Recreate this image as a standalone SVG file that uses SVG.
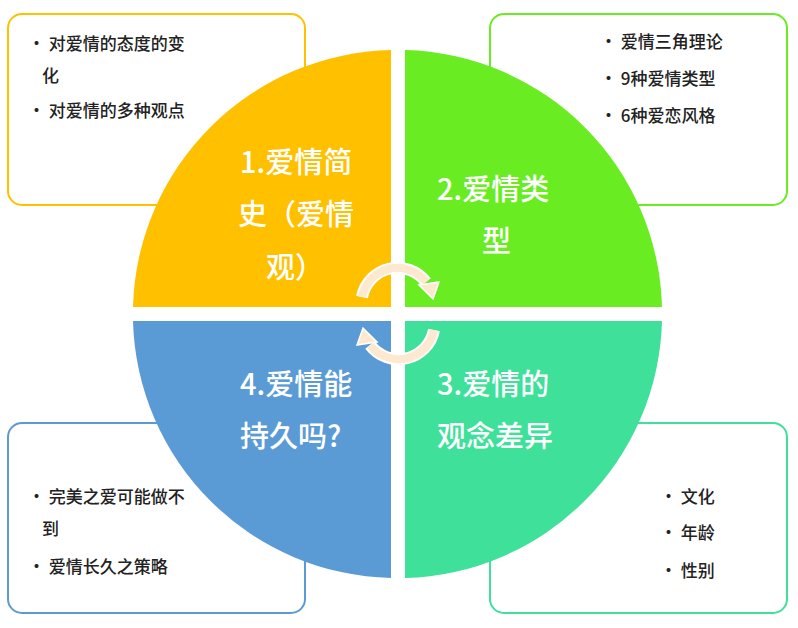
<svg xmlns="http://www.w3.org/2000/svg" width="798" height="628" viewBox="0 0 798 628">
<style>
.box{fill:#fff;stroke-width:2}
.b{font-family:"Noto Sans CJK SC","Noto Sans",sans-serif;font-size:17px;font-weight:500;fill:#222}
.q{font-family:"Noto Sans CJK SC","Noto Sans",sans-serif;font-size:29px;font-weight:500;fill:#fff}
</style>
<rect width="798" height="628" fill="#fff"/>
<g id="box1"><rect class="box" x="8" y="14" width="297" height="191" rx="14" stroke="#FFC000"/>
<text class="b" x="28" y="50">• 对爱情的态度的变</text><text class="b" x="42" y="82">化</text><text class="b" x="28" y="117">• 对爱情的多种观点</text></g>
<g id="box2"><rect class="box" x="490" y="14" width="297" height="191" rx="14" stroke="#6AEC23"/>
<text class="b" x="600" y="48">• 爱情三角理论</text><text class="b" x="600" y="85">• 9种爱情类型</text><text class="b" x="600" y="122">• 6种爱恋风格</text></g>
<g id="box4"><rect class="box" x="8" y="423" width="297" height="190" rx="14" stroke="#5B9BD5"/>
<text class="b" x="28" y="503">• 完美之爱可能做不</text><text class="b" x="42" y="535">到</text><text class="b" x="28" y="573">• 爱情长久之策略</text></g>
<g id="box3"><rect class="box" x="490" y="423" width="297" height="190" rx="14" stroke="#3EE09A"/>
<text class="b" x="660" y="503">• 文化</text><text class="b" x="660" y="539">• 年龄</text><text class="b" x="660" y="577">• 性别</text></g>
<g id="q1"><path d="M391,307 H133 A264,264 0 0 1 391,50 Z" fill="#FFC000"/>
<text class="q" x="240" y="173">1.爱情简</text><text class="q" x="238" y="225">史（爱情</text><text class="q" x="266" y="278">观）</text></g>
<g id="q2"><path d="M405,307 V50 A264,264 0 0 1 662,307 Z" fill="#6AEC23"/>
<text class="q" x="437" y="200">2.爱情类</text><text class="q" x="482" y="252">型</text></g>
<g id="q3"><path d="M405,321 H662 A264,264 0 0 1 405,578 Z" fill="#3EE09A"/>
<text class="q" x="437" y="395">3.爱情的</text><text class="q" x="437" y="447">观念差异</text></g>
<g id="q4"><path d="M391,321 V578 A264,264 0 0 1 133,321 Z" fill="#5B9BD5"/>
<text class="q" x="240" y="395">4.爱情能</text><text class="q" x="240" y="447">持久吗?</text></g>
<g id="connectors">
<path d="M362,297 A36,36 0 0 1 426,282" fill="none" stroke="#fff" stroke-width="12"/>
<path d="M362,297 A36,36 0 0 1 426,282" fill="none" stroke="#FDE9D0" stroke-width="8"/>
<polygon points="419,285 439,282 433,299" fill="#FDE9D0" stroke="#fff" stroke-width="1.5"/>
<path d="M434,330 A36,36 0 0 1 370,345" fill="none" stroke="#fff" stroke-width="12"/>
<path d="M434,330 A36,36 0 0 1 370,345" fill="none" stroke="#FDE9D0" stroke-width="8"/>
<polygon points="377,342 357,345 363,328" fill="#FDE9D0" stroke="#fff" stroke-width="1.5"/>
</g>
</svg>
